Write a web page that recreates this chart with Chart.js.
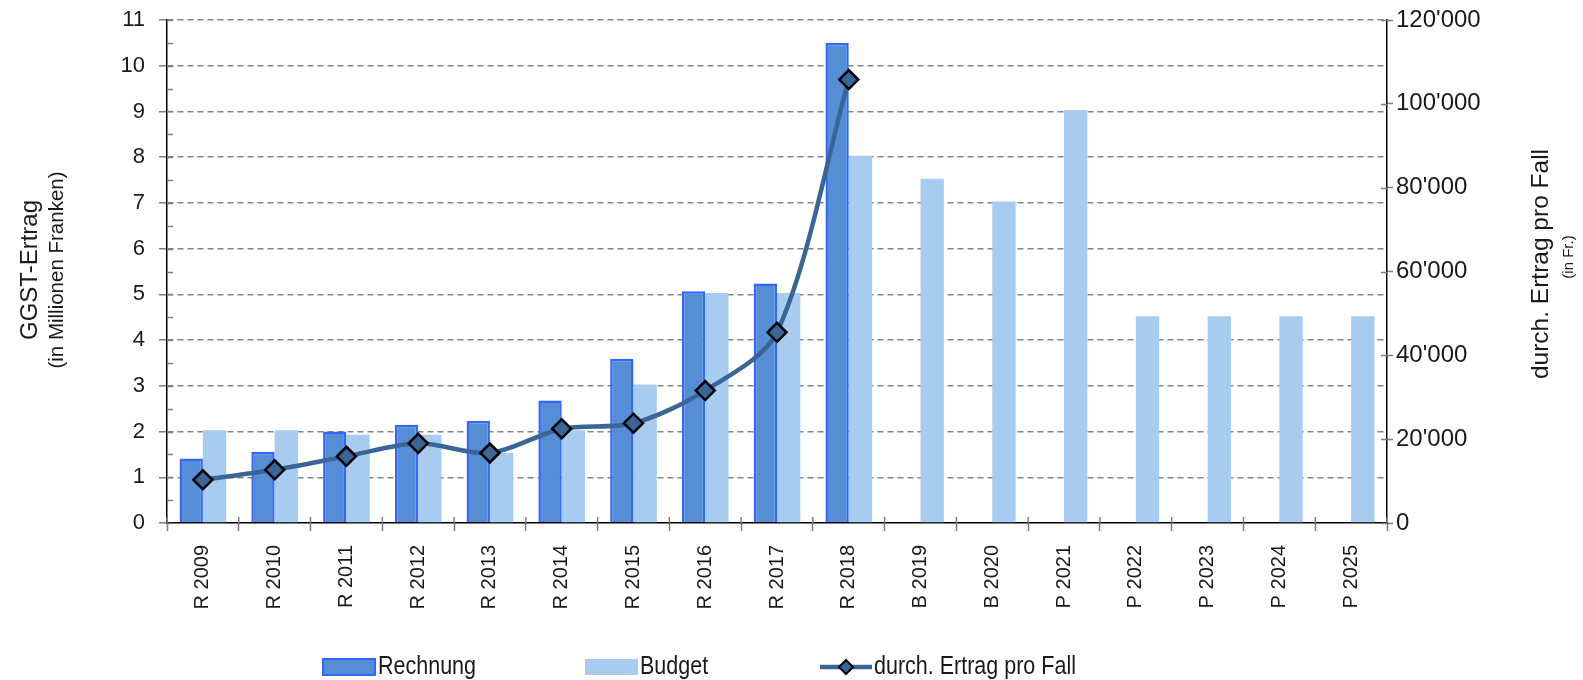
<!DOCTYPE html>
<html>
<head>
<meta charset="utf-8">
<script src="https://cdn.jsdelivr.net/npm/chart.js@4.4.1/dist/chart.umd.min.js"></script>
<style>
  html, body { margin: 0; padding: 0; background: #fff; }
  #wrap { width: 1583px; height: 680px; }
</style>
</head>
<body>
<div id="wrap"><canvas id="myChart" width="1583" height="680"></canvas></div>
<script>
'use strict';

// values
const categories = ['R 2009', 'R 2010', 'R 2011', 'R 2012', 'R 2013', 'R 2014', 'R 2015', 'R 2016', 'R 2017',
  'R 2018', 'B 2019', 'B 2020', 'P 2021', 'P 2022', 'P 2023', 'P 2024', 'P 2025'];
const rechnung = [1.41, 1.56, 2.0, 2.15, 2.23, 2.68, 3.59, 5.07, 5.24, 10.5, null, null, null, null, null, null, null];
const budget = [2.03, 2.03, 1.93, 1.93, 1.53, 2.03, 3.03, 5.03, 5.03, 8.03, 7.53, 7.03, 9.03, 4.52, 4.52, 4.52, 4.52];
const ertragProFall = [10300, 12700, 15900, 19000, 16700, 22500, 23800, 31600, 45500, 105800,
  null, null, null, null, null, null, null];
const leftTicks = [0, 1, 2, 3, 4, 5, 6, 7, 8, 9, 10, 11];
const leftMinorTicks = [0.5, 1.5, 2.5, 3.5, 4.5, 5.5, 6.5, 7.5, 8.5, 9.5, 10.5];
const rightTicks = [0, 20000, 40000, 60000, 80000, 100000, 120000];

const colors = {
  rechnung: '#558ED5',
  rechnungBorder: '#3366FF',
  budget: '#A8CBF0',
  line: '#3A6597',
  grid: '#858585',
  tick: '#7F7F7F',
  text: '#1A1A1A'
};
const fontFamily = "'Liberation Sans', Arial, sans-serif";

// axis titles (two sizes each side)
const sideTitles = {
  id: 'sideTitles',
  afterDraw(chart) {
    const ctx = chart.ctx;
    const put = (text, x, y, size) => {
      ctx.save();
      ctx.translate(x, y);
      ctx.rotate(-Math.PI / 2);
      ctx.font = size + 'px ' + fontFamily;
      ctx.fillStyle = colors.text;
      ctx.textAlign = 'center';
      ctx.textBaseline = 'middle';
      ctx.fillText(text, 0, 0);
      ctx.restore();
    };
    put('GGST-Ertrag', 30, 270, 24);
    put('(in Millionen Franken)', 57, 270, 20.5);
    put('durch. Ertrag pro Fall', 1541, 264, 24.5);
    put('(in Fr.)', 1569, 257, 15);
  }
};

// the original's tick marks also poke into the plot, plus half-step minor ticks on the left
const innerTicks = {
  id: 'innerTicks',
  afterDraw(chart) {
    const ctx = chart.ctx;
    const {x, y, y1} = chart.scales;
    const area = chart.chartArea;
    const len = 6;
    ctx.save();
    ctx.strokeStyle = colors.tick;
    ctx.lineWidth = 1.5;
    ctx.beginPath();
    leftTicks.concat(leftMinorTicks).forEach(v => {
      const py = Math.round(y.getPixelForValue(v)) + 0.5;
      ctx.moveTo(area.left, py);
      ctx.lineTo(area.left + len, py);
    });
    rightTicks.forEach(v => {
      const py = Math.round(y1.getPixelForValue(v)) + 0.5;
      ctx.moveTo(area.right - len, py);
      ctx.lineTo(area.right, py);
    });
    for (let i = 0; i <= categories.length; i++) {
      const px = x.getPixelForTick(Math.min(i, categories.length - 1)) +
        (i === categories.length ? 1 : -1) * (x.width / categories.length) / 2;
      ctx.moveTo(px, area.bottom - len);
      ctx.lineTo(px, area.bottom);
    }
    ctx.stroke();
    ctx.restore();
  }
};

// legend row at the bottom (text squeezed a little, like the narrow face of the original)
const bottomLegend = {
  id: 'bottomLegend',
  afterDraw(chart) {
    const ctx = chart.ctx;
    const cy = 667;
    const label = (text, x) => {
      ctx.save();
      ctx.translate(x, cy);
      ctx.scale(0.86, 1);
      ctx.font = '25px ' + fontFamily;
      ctx.fillStyle = colors.text;
      ctx.textBaseline = 'middle';
      ctx.fillText(text, 0, 0);
      ctx.restore();
    };
    ctx.save();
    ctx.fillStyle = colors.rechnung;
    ctx.fillRect(323, cy - 8, 52, 16);
    ctx.strokeStyle = colors.rechnungBorder;
    ctx.lineWidth = 2;
    ctx.strokeRect(323, cy - 8, 52, 16);
    label('Rechnung', 378);

    ctx.fillStyle = colors.budget;
    ctx.fillRect(585, cy - 8, 53, 16);
    label('Budget', 640);

    ctx.strokeStyle = colors.line;
    ctx.lineWidth = 4.5;
    ctx.beginPath();
    ctx.moveTo(820, cy);
    ctx.lineTo(872, cy);
    ctx.stroke();
    ctx.beginPath();
    ctx.moveTo(846, cy - 7);
    ctx.lineTo(853, cy);
    ctx.lineTo(846, cy + 7);
    ctx.lineTo(839, cy);
    ctx.closePath();
    ctx.fillStyle = colors.line;
    ctx.fill();
    ctx.strokeStyle = '#000';
    ctx.lineWidth = 2;
    ctx.stroke();
    label('durch. Ertrag pro Fall', 874);
    ctx.restore();
  }
};

// keep the plot top where the original has it
const trimPadding = scale => {
  scale.paddingTop = 4;
  scale.paddingBottom = 4;
};

const ctx = document.getElementById('myChart');

new Chart(ctx, {
  type: 'bar',
  data: {
    labels: categories,
    datasets: [
      {
        label: 'Rechnung',
        data: rechnung,
        backgroundColor: colors.rechnung,
        borderColor: colors.rechnungBorder,
        borderWidth: 2.5,
        yAxisID: 'y',
        order: 1
      },
      {
        label: 'Budget',
        data: budget,
        backgroundColor: colors.budget,
        borderWidth: 0,
        yAxisID: 'y',
        order: 2
      },
      {
        type: 'line',
        label: 'durch. Ertrag pro Fall',
        data: ertragProFall,
        yAxisID: 'y1',
        order: 0,
        borderColor: colors.line,
        borderWidth: 4.5,
        tension: 0.3,
        pointStyle: 'rectRot',
        pointRadius: 9.5,
        pointBackgroundColor: colors.line,
        pointBorderColor: '#000',
        pointBorderWidth: 2.5
      }
    ]
  },
  options: {
    responsive: false,
    animation: false,
    devicePixelRatio: 1,
    layout: { padding: { top: 20, left: 0, right: 0, bottom: 0 } },
    datasets: {
      bar: { categoryPercentage: 0.65, barPercentage: 1.0 }
    },
    scales: {
      x: {
        offset: true,
        grid: {
          offset: true,
          drawOnChartArea: false,
          tickLength: 8,
          tickColor: colors.tick,
          tickWidth: 1.5
        },
        border: { color: '#000', width: 1.5 },
        ticks: {
          autoSkip: false,
          maxRotation: 90,
          minRotation: 90,
          padding: 14,
          color: colors.text,
          font: { family: fontFamily, size: 20 }
        },
        afterFit(scale) { scale.height = 157; }
      },
      y: {
        position: 'left',
        min: 0,
        max: 11,
        afterBuildTicks(scale) { scale.ticks = leftTicks.map(v => ({ value: v })); },
        grid: {
          color: c => (c.tick && c.tick.value === 0) ? 'rgba(0,0,0,0)' : colors.grid,
          lineWidth: 1.5,
          tickLength: 8,
          tickColor: colors.tick,
          tickWidth: 1.5
        },
        border: { color: '#000', width: 1.5, dash: [6, 4] },
        ticks: {
          padding: 14,
          color: colors.text,
          font: { family: fontFamily, size: 22 }
        },
        afterFit(scale) {
          scale.width = 167;
          trimPadding(scale);
        }
      },
      y1: {
        position: 'right',
        min: 0,
        max: 120000,
        afterBuildTicks(scale) { scale.ticks = rightTicks.map(v => ({ value: v })); },
        grid: {
          drawOnChartArea: false,
          tickLength: 6,
          tickColor: colors.tick,
          tickWidth: 1.5
        },
        border: { color: '#000', width: 1.5 },
        ticks: {
          padding: 3,
          color: colors.text,
          font: { family: fontFamily, size: 24 },
          callback: v => String(v).replace(/\B(?=(\d{3})+(?!\d))/g, "'")
        },
        afterFit(scale) {
          scale.width = 196;
          trimPadding(scale);
        }
      }
    },
    plugins: {
      legend: { display: false },
      tooltip: { enabled: false }
    }
  },
  plugins: [sideTitles, innerTicks, bottomLegend]
});
</script>
</body>
</html>
